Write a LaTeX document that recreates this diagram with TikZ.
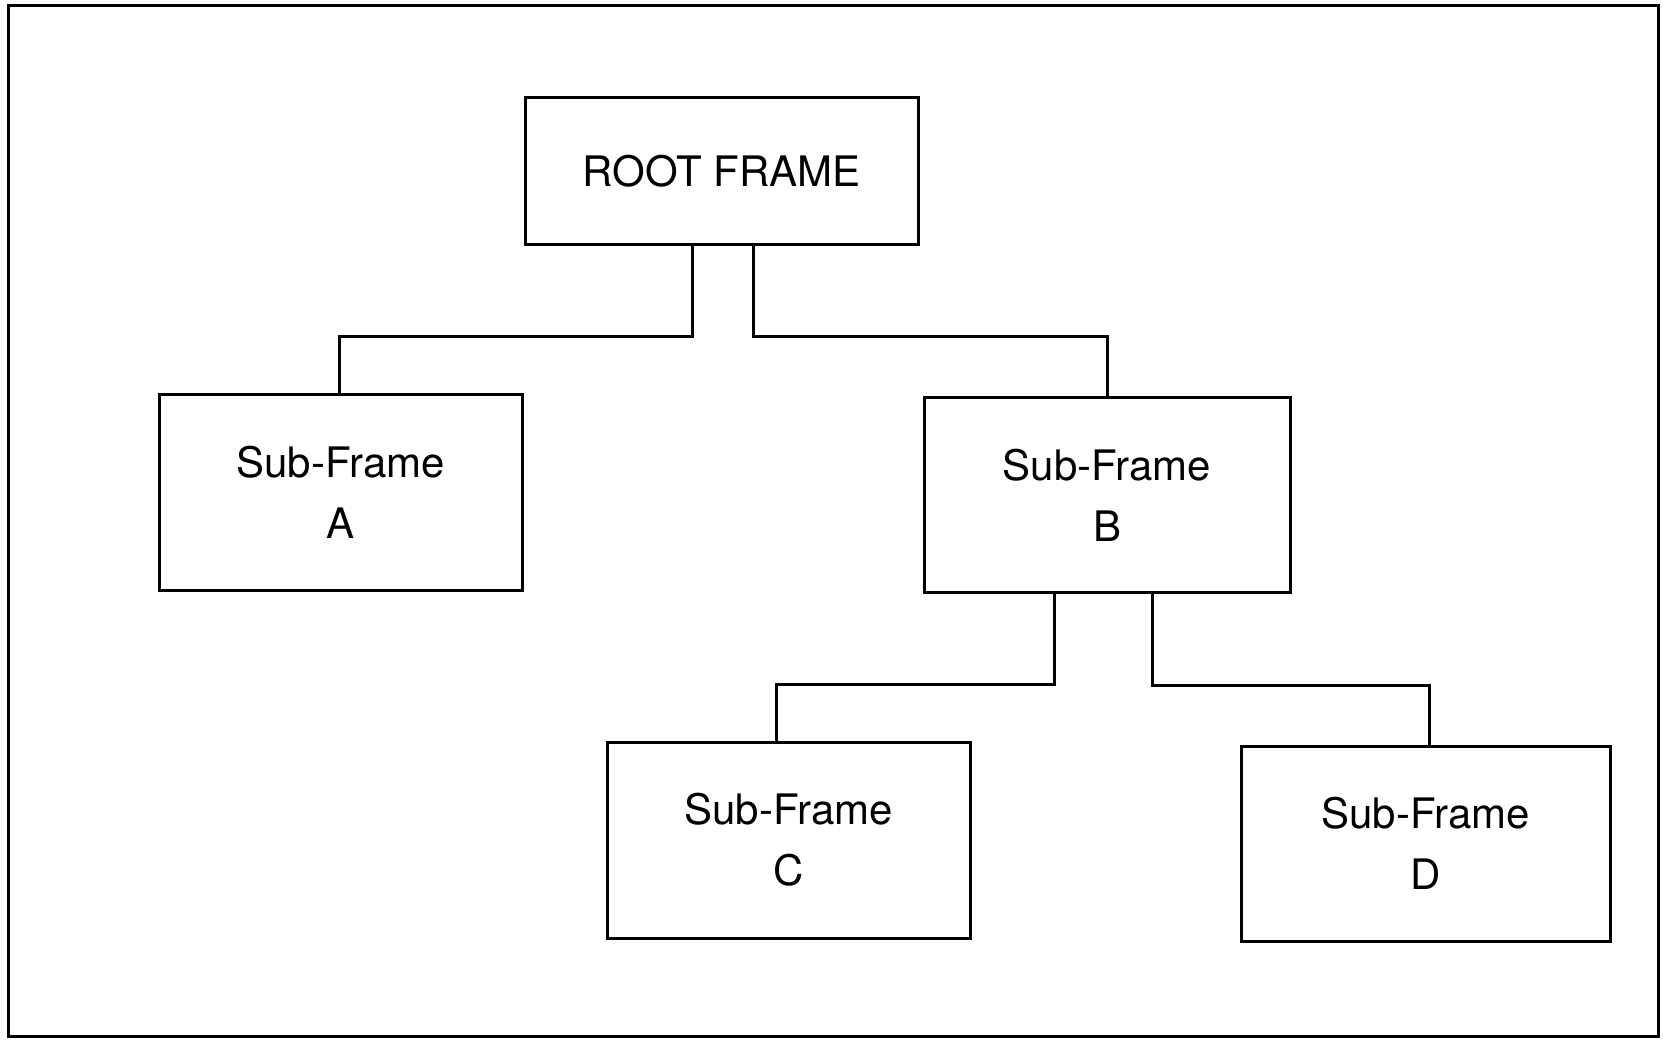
\documentclass[tikz,border=0pt]{standalone}
\usepackage{fontspec}
\setmainfont{TeX Gyre Heros}
\usepackage{tikz}
\usetikzlibrary{positioning}

\tikzset{
  framebox/.style={draw, line width=3pt, minimum width=363pt, minimum height=195pt,
    align=center, inner sep=0pt, font=\fontsize{42}{61}\selectfont},
  link/.style={line width=3pt}
}

\begin{document}
\begin{tikzpicture}[x=1pt, y=-1pt]
  \useasboundingbox (0,0) rectangle (1663,1040);
  % Outer border
  \draw[line width=3pt] (8.5,5.5) rectangle (1658,1036);

  % Frames
  \node[framebox, minimum width=393pt, minimum height=147pt] (root) at (721.5,171.5) {ROOT FRAME};
  \node[framebox] (subA) at (340.5,492.5) {Sub-Frame\\A};
  \node[framebox, minimum width=366pt, minimum height=194pt] (subB) at (1107,495) {Sub-Frame\\B};
  \node[framebox, minimum height=196pt] (subC) at (788.5,840) {Sub-Frame\\C};
  \node[framebox, minimum width=369pt] (subD) at (1425.5,843.5) {Sub-Frame\\D};

  % Connectors
  \draw[link] ([xshift=-29.5pt]root.south) -- ++(0,90) -| ([xshift=-1pt]subA.north);
  \draw[link] ([xshift=31.5pt]root.south) -- ++(0,90) -| (subB.north);
  \draw[link] ([xshift=-53pt]subB.south) -- ++(0,91) -| ([xshift=-12pt]subC.north);
  \draw[link] ([xshift=45pt]subB.south) -- ++(0,92) -| ([xshift=4pt]subD.north);
\end{tikzpicture}
\end{document}
